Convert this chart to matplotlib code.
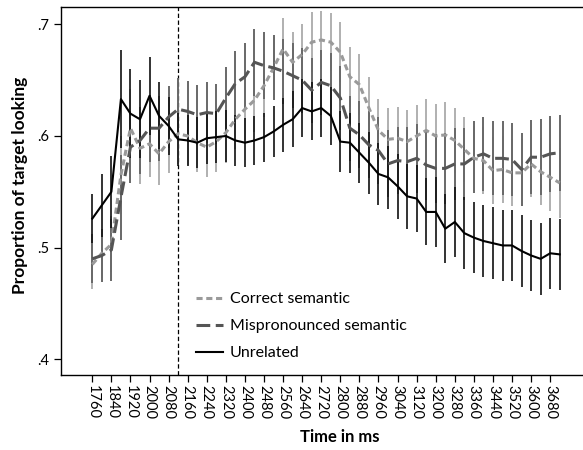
# Proportion of target looking over time, three conditions
import numpy as np
import matplotlib
matplotlib.use('Agg')
import matplotlib.pyplot as plt
from matplotlib.ticker import FuncFormatter

plt.rcParams['font.family'] = ['Lato', 'DejaVu Sans']

# time bins (ms), 40 ms steps
times = list(range(1760, 3721, 40))

correct = [0.485, 0.495, 0.503, 0.565, 0.607, 0.589, 0.593, 0.584, 0.595, 0.602,
           0.600, 0.594, 0.590, 0.595, 0.603, 0.615, 0.624, 0.632, 0.645, 0.661,
           0.678, 0.666, 0.673, 0.684, 0.686, 0.684, 0.675, 0.653, 0.646, 0.625,
           0.605, 0.597, 0.598, 0.595, 0.600, 0.605, 0.600, 0.601, 0.596, 0.588,
           0.580, 0.578, 0.569, 0.570, 0.567, 0.567, 0.575, 0.568, 0.563, 0.558]
correct_se = [0.022, 0.022, 0.025, 0.035, 0.035, 0.032, 0.030, 0.028, 0.028, 0.027,
              0.026, 0.026, 0.027, 0.027, 0.027, 0.027, 0.028, 0.028, 0.028, 0.028,
              0.028, 0.027, 0.027, 0.027, 0.026, 0.026, 0.027, 0.027, 0.027, 0.028,
              0.028, 0.028, 0.028, 0.028, 0.028, 0.028, 0.029, 0.029, 0.029, 0.029,
              0.029, 0.030, 0.030, 0.030, 0.030, 0.030, 0.030, 0.030, 0.030, 0.031]

mispron = [0.490, 0.493, 0.498, 0.545, 0.590, 0.596, 0.607, 0.607, 0.617, 0.624,
           0.622, 0.619, 0.621, 0.620, 0.634, 0.647, 0.653, 0.666, 0.663, 0.661,
           0.658, 0.654, 0.650, 0.641, 0.648, 0.645, 0.634, 0.607, 0.601, 0.592,
           0.587, 0.575, 0.578, 0.577, 0.580, 0.574, 0.571, 0.571, 0.575, 0.575,
           0.581, 0.584, 0.580, 0.580, 0.579, 0.570, 0.581, 0.581, 0.584, 0.585]
mispron_se = [0.022, 0.024, 0.028, 0.038, 0.032, 0.030, 0.030, 0.029, 0.028, 0.028,
              0.027, 0.027, 0.027, 0.027, 0.028, 0.029, 0.030, 0.030, 0.030, 0.029,
              0.029, 0.029, 0.029, 0.029, 0.029, 0.029, 0.029, 0.029, 0.030, 0.030,
              0.030, 0.030, 0.030, 0.031, 0.031, 0.031, 0.031, 0.032, 0.032, 0.032,
              0.032, 0.033, 0.033, 0.033, 0.033, 0.033, 0.033, 0.034, 0.034, 0.034]

unrelated = [0.526, 0.538, 0.550, 0.633, 0.620, 0.615, 0.636, 0.618, 0.609, 0.597,
             0.596, 0.594, 0.598, 0.599, 0.600, 0.596, 0.594, 0.596, 0.599, 0.604,
             0.610, 0.615, 0.625, 0.622, 0.625, 0.618, 0.595, 0.594, 0.585, 0.576,
             0.566, 0.563, 0.555, 0.546, 0.544, 0.532, 0.532, 0.517, 0.523, 0.513,
             0.509, 0.506, 0.504, 0.502, 0.502, 0.497, 0.493, 0.490, 0.495, 0.494]
unrelated_se = [0.022, 0.028, 0.032, 0.044, 0.040, 0.035, 0.035, 0.030, 0.026, 0.024,
                0.023, 0.023, 0.023, 0.023, 0.023, 0.023, 0.022, 0.022, 0.022, 0.023,
                0.024, 0.025, 0.026, 0.026, 0.026, 0.026, 0.027, 0.027, 0.027, 0.028,
                0.028, 0.028, 0.029, 0.029, 0.030, 0.030, 0.031, 0.031, 0.031, 0.032,
                0.032, 0.032, 0.032, 0.032, 0.032, 0.032, 0.032, 0.032, 0.032, 0.032]

tick_times = list(range(1760, 3681, 80))
onset = 2120

fig = plt.figure(figsize=(5.83, 4.5), dpi=100)
ax = fig.add_axes([61 / 583, 1 - 375 / 450, 529 / 583, 368 / 450])

# error bars first, lines on top
ax.errorbar(times, correct, yerr=correct_se, fmt='none', ecolor='#b0b0b0', elinewidth=1.4, capsize=0, zorder=2)
ax.errorbar(times, mispron, yerr=mispron_se, fmt='none', ecolor='#686868', elinewidth=1.4, capsize=0, zorder=2)
ax.errorbar(times, unrelated, yerr=unrelated_se, fmt='none', ecolor='#111111', elinewidth=1.2, capsize=0, zorder=2)

ax.plot(times, correct, color='#9a9a9a', lw=2.2, dashes=(2, 1.2), label='Correct semantic', zorder=3)
ax.plot(times, mispron, color='#555555', lw=2.2, dashes=(4.5, 1.8), label='Mispronounced semantic', zorder=3)
ax.plot(times, unrelated, color='black', lw=1.5, label='Unrelated', zorder=3)

ax.axvline(onset, color='black', lw=0.9, dashes=(3.5, 2), zorder=1)

ax.set_xlim(1628.8, 3846.8)
ax.set_ylim(0.386, 0.7155)
ax.set_xticks(tick_times)
ax.set_xticklabels([str(t) for t in tick_times], rotation=270, fontsize=10.5)
ax.set_yticks([0.4, 0.5, 0.6, 0.7])
ax.yaxis.set_major_formatter(FuncFormatter(lambda v, p: ('%.1f' % v).lstrip('0')))
ax.tick_params(axis='y', labelsize=10.5, length=5, width=0.9)
ax.tick_params(axis='x', length=5, width=0.9, pad=2)
for s in ax.spines.values():
    s.set_linewidth(1.0)

fig.text(20 / 583, 1 - 185 / 450, 'Proportion of target looking', rotation=90,
         ha='center', va='center', fontsize=12.5, fontweight='bold')
fig.text(340 / 583, 1 - 437 / 450, 'Time in ms', ha='center', va='center',
         fontsize=12, fontweight='bold')

ax.legend(loc='upper left', bbox_to_anchor=(196 / 583, 1 - 292 / 450),
          bbox_transform=fig.transFigure, frameon=False, fontsize=11.5,
          handlelength=1.7, handletextpad=0.4, labelspacing=0.8, borderpad=0,
          borderaxespad=0)

fig.savefig('out.png', dpi=100)
